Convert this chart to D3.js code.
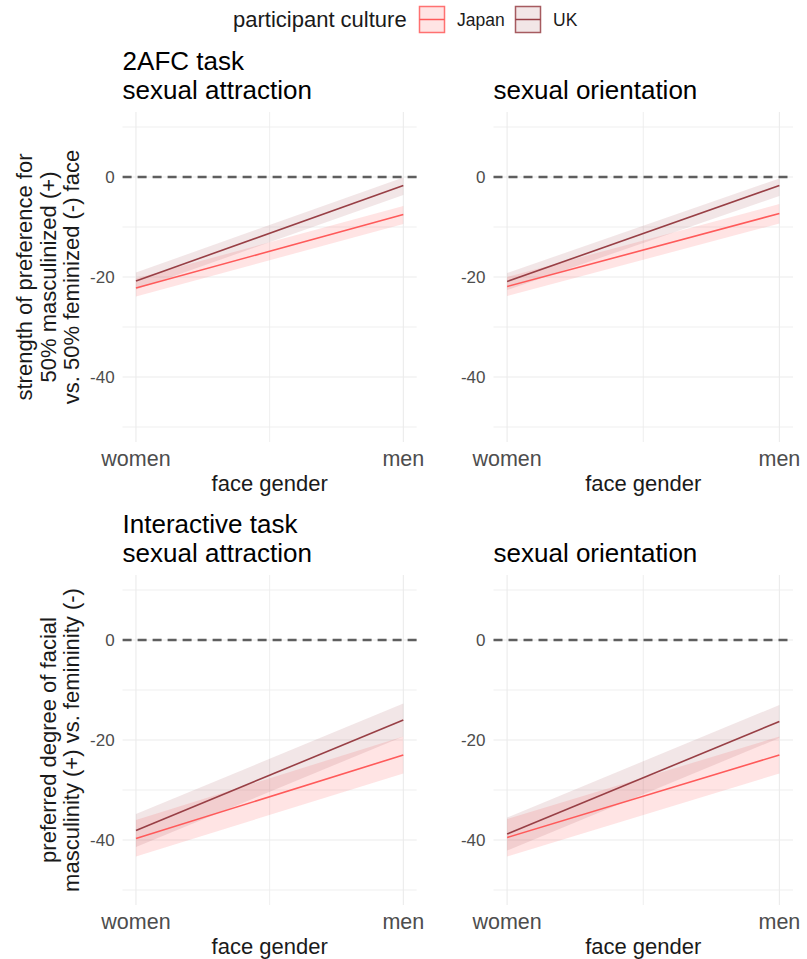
<!DOCTYPE html>
<html><head><meta charset="utf-8">
<script src="https://cdn.jsdelivr.net/npm/d3@7"></script>
<style>body{margin:0;background:#fff}svg{display:block}text{font-family:"Liberation Sans",Arial,Helvetica,sans-serif}</style>
</head><body><svg id="c" width="807" height="959"></svg>
<script>
// ---------- data ----------
const faceGender = ["women", "men"];
const cultures = ["Japan", "UK"];
const yTicks = [-40, -20, 0];
const yGrid = [-50, -40, -30, -20, -10, 0, 10];
const panelTitles = [["2AFC task", "sexual attraction"], ["sexual orientation"], ["Interactive task", "sexual attraction"], ["sexual orientation"]];
const yTitles = [["strength of preference for", "50% masculinized (+)", "vs. 50% feminized (-) face"], ["preferred degree of facial", "masculinity (+) vs. femininity (-)"]];
// mean, lower, upper at [women, men]
const afcAttrJapanMean = [-22.2, -7.5], afcAttrJapanLo = [-23.9, -9.4], afcAttrJapanHi = [-20.3, -5.8];
const afcAttrUKMean = [-20.8, -1.7], afcAttrUKLo = [-22.5, -3.6], afcAttrUKHi = [-19.1, -0.1];
const afcOrientJapanMean = [-21.9, -7.3], afcOrientJapanLo = [-23.8, -9.3], afcOrientJapanHi = [-20.0, -5.4];
const afcOrientUKMean = [-20.9, -1.7], afcOrientUKLo = [-22.6, -3.8], afcOrientUKHi = [-19.2, -0.3];
const intAttrJapanMean = [-39.7, -23.0], intAttrJapanLo = [-43.3, -26.7], intAttrJapanHi = [-36.0, -19.3];
const intAttrUKMean = [-38.1, -16.0], intAttrUKLo = [-41.4, -19.3], intAttrUKHi = [-34.8, -12.7];
const intOrientJapanMean = [-39.5, -23.0], intOrientJapanLo = [-43.3, -26.7], intOrientJapanHi = [-35.8, -19.3];
const intOrientUKMean = [-38.8, -16.3], intOrientUKLo = [-42.1, -19.6], intOrientUKHi = [-35.5, -13.0];

const panelData = [
  {Japan: [afcAttrJapanMean, afcAttrJapanLo, afcAttrJapanHi], UK: [afcAttrUKMean, afcAttrUKLo, afcAttrUKHi]},
  {Japan: [afcOrientJapanMean, afcOrientJapanLo, afcOrientJapanHi], UK: [afcOrientUKMean, afcOrientUKLo, afcOrientUKHi]},
  {Japan: [intAttrJapanMean, intAttrJapanLo, intAttrJapanHi], UK: [intAttrUKMean, intAttrUKLo, intAttrUKHi]},
  {Japan: [intOrientJapanMean, intOrientJapanLo, intOrientJapanHi], UK: [intOrientUKMean, intOrientUKLo, intOrientUKHi]}
];

// ---------- style / layout ----------
const colors = {Japan: "#ff5a5a", UK: "#983f45"};
const ribbonAlpha = {Japan: 0.16, UK: 0.13};
const cols = [[122.6, 416.7], [493.5, 793]];
const rows = [[112, 442], [575, 905]];
const FONT_TICK_Y = 17, FONT_TICK_X = 21.5, FONT_TITLE = 26, FONT_AXIS = 22;

const svg = d3.select("#c");

panelData.forEach((pd, i) => {
  const col = i % 2, row = Math.floor(i / 2);
  const [x0, x1] = cols[col], [y0, y1] = rows[row];
  const x = d3.scalePoint().domain(faceGender).range([x0, x1]).padding(0.05);
  const y = d3.scaleLinear().domain([-53, 13]).range([y1, y0]);
  const g = svg.append("g");

  // grid
  g.selectAll(".hg").data(yGrid).join("line")
    .attr("x1", x0).attr("x2", x1).attr("y1", d => y(d)).attr("y2", d => y(d))
    .attr("stroke", "#ebebeb").attr("stroke-width", d => d % 20 === 0 ? 1.1 : 0.8);
  const midX = (x(faceGender[0]) + x(faceGender[1])) / 2;
  g.selectAll(".vg").data([x(faceGender[0]), midX, x(faceGender[1])]).join("line")
    .attr("x1", d => d).attr("x2", d => d).attr("y1", y0).attr("y2", y1)
    .attr("stroke", "#ebebeb").attr("stroke-width", (d, j) => j === 1 ? 0.8 : 1.1);

  // dashed zero line
  g.append("line").attr("x1", x0).attr("x2", x1).attr("y1", y(0)).attr("y2", y(0))
    .attr("stroke", "#5e5e5e").attr("stroke-width", 2.3).attr("stroke-dasharray", "9,6");

  // ribbons and lines
  cultures.forEach(c => {
    const [m, lo, hi] = pd[c];
    const pts = faceGender.map((f, k) => ({f, m: m[k], lo: lo[k], hi: hi[k]}));
    g.append("path").datum(pts)
      .attr("d", d3.area().x(d => x(d.f)).y0(d => y(d.lo)).y1(d => y(d.hi)))
      .attr("fill", colors[c]).attr("fill-opacity", ribbonAlpha[c]);
  });
  cultures.forEach(c => {
    const [m] = pd[c];
    const pts = faceGender.map((f, k) => ({f, m: m[k]}));
    g.append("path").datum(pts)
      .attr("d", d3.line().x(d => x(d.f)).y(d => y(d.m)))
      .attr("fill", "none").attr("stroke", colors[c]).attr("stroke-width", 1.6);
  });

  // y tick labels
  g.selectAll(".yt").data(yTicks).join("text")
    .attr("x", x0 - 8).attr("y", d => y(d)).attr("dy", "0.36em")
    .attr("text-anchor", "end").attr("font-size", FONT_TICK_Y).attr("fill", "#4d4d4d")
    .text(d => d);

  // x tick labels
  const xlBase = y1 + 24;
  g.selectAll(".xt").data(faceGender).join("text")
    .attr("x", d => x(d)).attr("y", xlBase)
    .attr("text-anchor", "middle").attr("font-size", FONT_TICK_X).attr("fill", "#4d4d4d")
    .text(d => d);
  g.append("text").attr("x", (x0 + x1) / 2).attr("y", y1 + 48.5)
    .attr("text-anchor", "middle").attr("font-size", FONT_AXIS).attr("fill", "#1a1a1a")
    .text("face gender");

  // panel title
  const lines = panelTitles[i];
  const lastBase = y0 - 13;
  lines.forEach((t, k) => {
    g.append("text").attr("x", x0).attr("y", lastBase - (lines.length - 1 - k) * 29)
      .attr("font-size", FONT_TITLE).attr("fill", "#000").text(t);
  });

  // y axis title on left column
  if (col === 0) {
    const tl = yTitles[row];
    const cy = (y0 + y1) / 2;
    tl.forEach((t, k) => {
      const bx = 79 - (tl.length - 1 - k) * 23.5;
      g.append("text").attr("transform", `translate(${bx},${cy}) rotate(-90)`)
        .attr("text-anchor", "middle").attr("font-size", FONT_AXIS).attr("fill", "#1a1a1a")
        .text(t);
    });
  }
});

// legend
const lg = svg.append("g");
lg.append("text").attr("x", 233).attr("y", 27).attr("font-size", FONT_AXIS).attr("fill", "#1a1a1a")
  .text("participant culture");
const keyX = {Japan: 419.5, UK: 515.5};
cultures.forEach(c => {
  const kx = keyX[c];
  lg.append("rect").attr("x", kx).attr("y", 6.5).attr("width", 25).attr("height", 26)
    .attr("fill", colors[c]).attr("fill-opacity", ribbonAlpha[c])
    .attr("stroke", colors[c]).attr("stroke-opacity", 0.85).attr("stroke-width", 1.5);
  lg.append("line").attr("x1", kx).attr("x2", kx + 25).attr("y1", 19.5).attr("y2", 19.5)
    .attr("stroke", colors[c]).attr("stroke-width", 1.5);
  lg.append("text").attr("x", kx + 37.5).attr("y", 26).attr("font-size", 17.5).attr("fill", "#1a1a1a")
    .text(c);
});
</script></body></html>
